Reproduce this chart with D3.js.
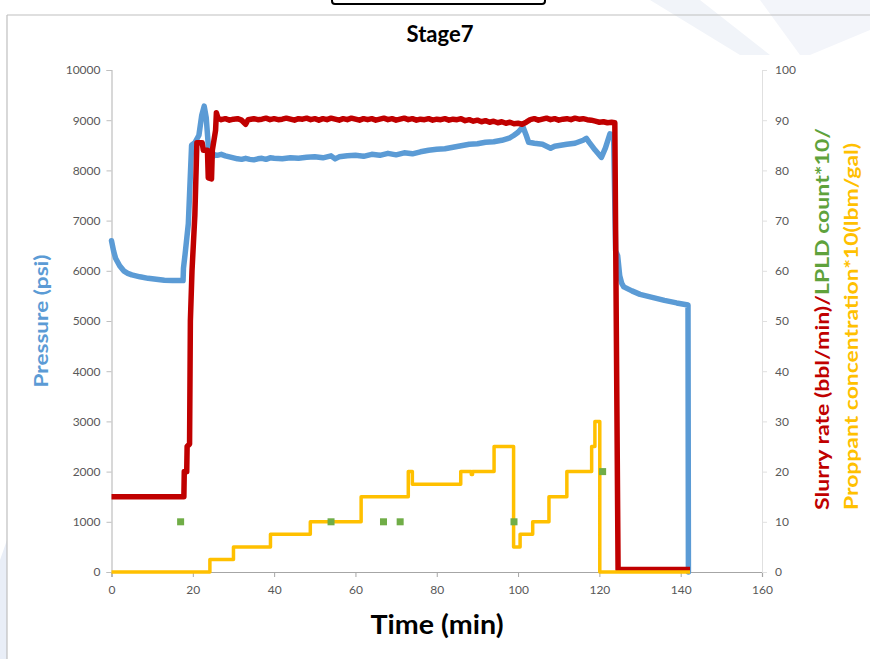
<!DOCTYPE html>
<html>
<head>
<meta charset="utf-8">
<script src="https://cdn.jsdelivr.net/npm/d3@7"></script>
<style>
  html, body { margin: 0; padding: 0; background: #fff; }
  svg { display: block; }
</style>
</head>
<body>
<svg id="chart" width="870" height="659"></svg>
<script>
// ---------------- DATA ----------------
const chartTitle = "Stage7";
const xTicks = [0, 20, 40, 60, 80, 100, 120, 140, 160];
const leftTicks = [0, 1000, 2000, 3000, 4000, 5000, 6000, 7000, 8000, 9000, 10000];
const rightTicks = [0, 10, 20, 30, 40, 50, 60, 70, 80, 90, 100];

// Pressure (psi) vs time (min)
const pressure = [
  [0,6600],[0.5,6400],[1,6250],[2,6100],[3,6000],[4,5950],[5,5920],[7,5880],[9,5850],[11,5830],
  [13,5810],[15,5805],[17.6,5805],[17.7,6050],[18.1,6330],[18.9,6940],[19.7,8500],[20.5,8550],
  [21.5,8700],[22.2,9100],[22.8,9280],[23.3,9050],[23.9,8400],[24.5,8250],[25.5,8310],[26,8300],
  [27,8320],[28,8290],[29,8270],[30,8250],[31,8230],[32,8220],[33,8240],[34,8220],[35,8210],
  [36,8230],[37,8240],[38,8220],[39,8250],[40,8240],[42,8230],[44,8250],[46,8240],[48,8260],
  [50,8270],[52,8250],[54,8290],[55,8230],[56,8270],[58,8290],[60,8300],[62,8280],[64,8320],
  [66,8300],[68,8340],[70,8310],[72,8350],[74,8330],[76,8370],[78,8400],[80,8420],[82,8430],
  [84,8460],[86,8490],[88,8520],[90,8530],[92,8560],[94,8570],[96,8600],[98,8650],[99,8700],
  [100,8760],[101.2,8870],[102,8700],[102.6,8560],[104,8540],[106,8520],[108,8440],[109,8480],
  [110.5,8500],[112,8520],[114,8540],[116,8600],[116.8,8640],[117.5,8560],[119,8400],[120.5,8260],
  [121.5,8450],[122.6,8730],[123.5,8700],[124,6400],[124.5,6300],[125,5900],[125.5,5750],
  [126,5680],[128,5600],[130,5530],[133,5470],[136,5410],[139,5360],[141.8,5320],[141.9,0]
];

// Slurry rate (bbl/min) vs time (min)
const slurryRate = [
  [0,15],[17.8,15],[17.9,20],[18.5,20],[18.6,25],[19.2,25.5],[19.4,50],[19.8,60],[20.5,71],
  [21,85.5],[22.3,85.5],[22.6,84],[23.6,84],[23.8,78.5],[24.6,78.3],[24.8,84],[25.6,88],
  [25.8,91.5],[26.2,90.4],[27,90.1],[28,90.3],[29,90.0],[30,90.2],[31,90.3],[32,90.0],[33,89.2],
  [33.6,90.1],[35,90.3],[36,90.1],[37,90.2],[38,90.4],[39,90.1],[40,90.3],[41,90.1],[42,90.2],
  [43,90.4],[44,90.2],[45,90.0],[46,90.3],[47,90.2],[48,90.4],[49,90.1],[50,90.3],[51,90.0],
  [52,90.3],[53,90.1],[54,90.4],[55,90.2],[56,90.0],[57,90.3],[58,90.1],[59,90.4],[60,90.2],
  [61,90.0],[62,90.3],[63,90.1],[64,90.3],[65,90.0],[66,90.2],[67,90.4],[68,90.1],[69,90.3],
  [70,90.0],[71,90.2],[72,90.4],[73,90.1],[74,90.3],[75,90.0],[76,90.2],[77,90.1],[78,90.3],
  [79,90.0],[80,90.2],[81,90.1],[82,90.3],[83,90.0],[84,90.2],[85,90.1],[86,90.3],[87,89.9],
  [88,90.1],[89,89.8],[90,90.0],[91,89.7],[92,89.9],[93,89.6],[94,89.8],[95,89.5],[96,89.7],
  [97,89.4],[98,89.6],[99,89.3],[100,89.4],[101,89.2],[102,89.6],[103,90.1],[104,90.3],
  [105,90.0],[106,90.2],[107,90.4],[108,90.1],[109,90.3],[110,90.0],[111,90.2],[112,90.3],
  [113,90.1],[114,90.4],[115,90.2],[116,90.3],[117,90.1],[118,90.0],[119,89.8],[120,89.6],
  [121,89.7],[122,89.5],[123,89.6],[123.8,89.5],[124.6,0.5],[142.3,0.5]
];

// Proppant concentration*10 (lbm/gal), step values
const proppant = [
  [0,0],[24.2,2.5],[30.0,5],[39.1,7.5],[48.9,10],[61.4,15],[73.0,20],[74.0,17.5],[85.9,20],
  [88.5,19.4],[88.8,20],[94.1,25],[98.9,5],[100.5,7.5],[103.6,10],[107.6,15],[112.0,20],
  [118.1,25],[118.9,30],[120.1,0],[142.3,0]
];

// LPLD count*10
const lpld = [[17,10],[54,10],[66.9,10],[71,10],[99,10],[120.8,20]];

// ---------------- DRAW ----------------
const svg = d3.select("#chart");
const plot = { left: 111.5, right: 762, top: 70, bottom: 572 };
const FONT = "Lato, 'Open Sans', sans-serif";

const x = d3.scaleLinear().domain([0, 160]).range([plot.left, plot.right]);
const yL = d3.scaleLinear().domain([0, 10000]).range([plot.bottom, plot.top]);
const yR = d3.scaleLinear().domain([0, 100]).range([plot.bottom, plot.top]);

// background decor (slide frame)
const deco = svg.append("g");
deco.append("path").attr("d", "M650,0 L700,0 L770,55 L740,55 Z").attr("fill", "#f1f4f9");
deco.append("path").attr("d", "M760,0 L870,0 L870,30 L810,55 L800,55 Z").attr("fill", "#f3f5fa");
deco.append("path").attr("d", "M0,560 L7,540 L7,659 L0,659 Z").attr("fill", "#e9eef7");
deco.append("line").attr("x1", 7).attr("y1", 15).attr("x2", 870).attr("y2", 15)
  .attr("stroke", "#bfbfbf").attr("stroke-width", 1.2);
deco.append("line").attr("x1", 7).attr("y1", 15).attr("x2", 7).attr("y2", 659)
  .attr("stroke", "#bfbfbf").attr("stroke-width", 1.2);
deco.append("rect").attr("x", 332).attr("y", -10).attr("width", 213).attr("height", 14)
  .attr("rx", 3).attr("fill", "#fff").attr("stroke", "#000").attr("stroke-width", 2);

// title
svg.append("text").attr("x", 440).attr("y", 42).attr("text-anchor", "middle")
  .attr("font-family", FONT).attr("font-weight", "bold").attr("font-size", 22)
  .attr("fill", "#000").text(chartTitle);

// axes
const fmt = d3.format("d");
const gx = svg.append("g").attr("transform", `translate(0,${plot.bottom})`)
  .call(d3.axisBottom(x).tickValues(xTicks).tickFormat(fmt).tickSize(5).tickPadding(8));
const gl = svg.append("g").attr("transform", `translate(${plot.left},0)`)
  .call(d3.axisLeft(yL).tickValues(leftTicks).tickFormat(fmt).tickSize(5).tickPadding(6));
const gr = svg.append("g").attr("transform", `translate(${plot.right},0)`)
  .call(d3.axisRight(yR).tickValues(rightTicks).tickFormat(fmt).tickSize(5).tickPadding(8));

[gx, gl, gr].forEach(g => {
  g.selectAll("text").attr("font-family", FONT).attr("font-size", 12).attr("fill", "#595959");
});
gx.select(".domain").attr("stroke", "#a6a6a6").attr("stroke-width", 1.2);
gx.selectAll(".tick line").attr("stroke", "#a6a6a6");
gl.select(".domain").attr("stroke", "#bfbfbf").attr("stroke-width", 1.2);
gl.selectAll(".tick line").attr("stroke", "#bfbfbf");
gr.select(".domain").attr("stroke", "#e0e0e0").attr("stroke-width", 1);
gr.selectAll(".tick line").attr("stroke", "#e0e0e0");

// series
const lineL = d3.line().x(d => x(d[0])).y(d => yL(d[1]));
const lineR = d3.line().x(d => x(d[0])).y(d => yR(d[1]));
const stepR = d3.line().x(d => x(d[0])).y(d => yR(d[1])).curve(d3.curveStepAfter);

svg.append("path").datum(pressure).attr("d", lineL)
  .attr("fill", "none").attr("stroke", "#5b9bd5").attr("stroke-width", 5.5)
  .attr("stroke-linejoin", "round").attr("stroke-linecap", "round");
svg.append("path").datum(slurryRate).attr("d", lineR)
  .attr("fill", "none").attr("stroke", "#c00000").attr("stroke-width", 5.5)
  .attr("stroke-linejoin", "round");
svg.append("path").datum(proppant).attr("d", stepR)
  .attr("fill", "none").attr("stroke", "#ffc000").attr("stroke-width", 3.5)
  .attr("stroke-linejoin", "round");
svg.append("g").selectAll("rect").data(lpld).join("rect")
  .attr("x", d => x(d[0]) - 3.5).attr("y", d => yR(d[1]) - 3.5)
  .attr("width", 7).attr("height", 7).attr("fill", "#70ad47");

// axis titles
svg.append("text").attr("x", 437).attr("y", 634).attr("text-anchor", "middle")
  .attr("font-family", FONT).attr("font-weight", "bold").attr("font-size", 26)
  .attr("textLength", 133).attr("lengthAdjust", "spacingAndGlyphs")
  .attr("fill", "#000").text("Time (min)");

svg.append("text").attr("transform", "translate(48,321) rotate(-90)")
  .attr("text-anchor", "middle").attr("font-family", FONT).attr("font-weight", "bold")
  .attr("font-size", 18).attr("textLength", 133).attr("lengthAdjust", "spacingAndGlyphs")
  .attr("fill", "#5b9bd5").text("Pressure (psi)");

const r1 = svg.append("text").attr("transform", "translate(829,510) rotate(-90)")
  .attr("text-anchor", "start").attr("font-family", FONT).attr("font-weight", "bold")
  .attr("font-size", 18).attr("textLength", 382).attr("lengthAdjust", "spacingAndGlyphs");
r1.append("tspan").attr("fill", "#c00000").text("Slurry rate (bbl/min)/");
r1.append("tspan").attr("fill", "#5fa23c").text("LPLD count*10/");

svg.append("text").attr("transform", "translate(858,510) rotate(-90)")
  .attr("text-anchor", "start").attr("font-family", FONT).attr("font-weight", "bold")
  .attr("font-size", 18).attr("textLength", 367).attr("lengthAdjust", "spacingAndGlyphs")
  .attr("fill", "#ffc000").text("Proppant concentration*10(lbm/gal)");
</script>
</body>
</html>
